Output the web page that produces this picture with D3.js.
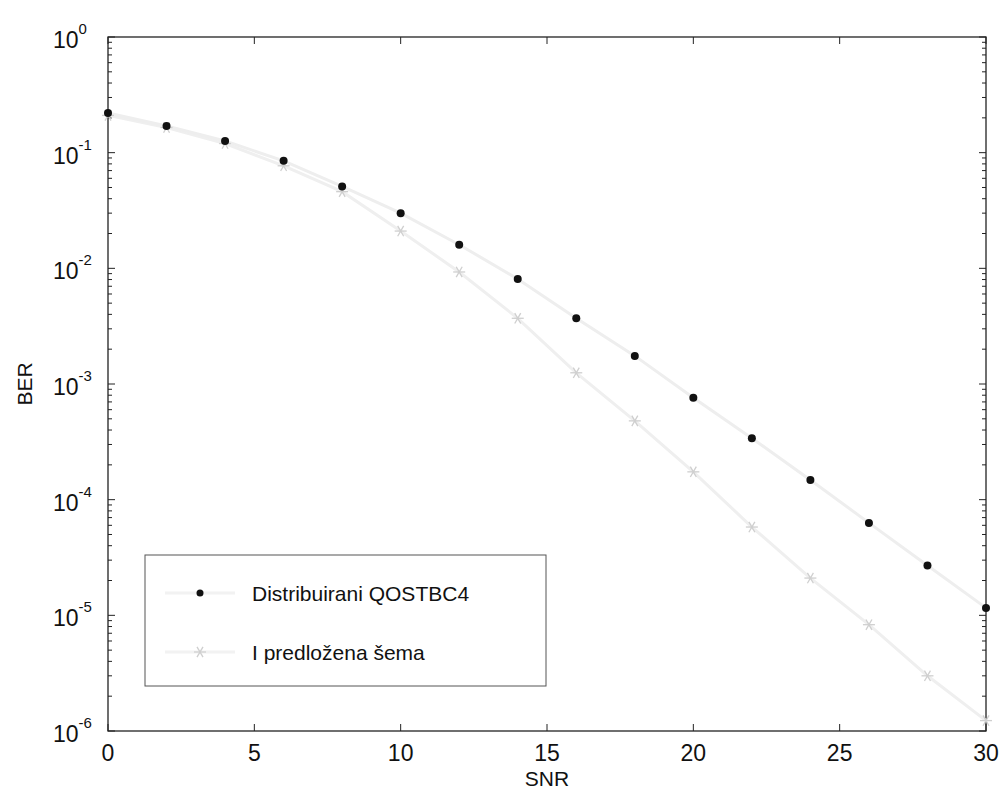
<!DOCTYPE html>
<html>
<head>
<meta charset="utf-8">
<script src="https://cdn.jsdelivr.net/npm/d3@7"></script>
<style>
  body { margin: 0; background: #fff; }
  text { font-family: "Liberation Sans", Arial, sans-serif; }
</style>
</head>
<body>
<div id="chart"></div>
<script>
const snr = [0, 2, 4, 6, 8, 10, 12, 14, 16, 18, 20, 22, 24, 26, 28, 30];
const berQostbc = [0.22, 0.17, 0.126, 0.085, 0.051, 0.030, 0.016, 0.0081, 0.0037, 0.00175, 0.00076, 0.00034, 0.000148, 6.3e-5, 2.7e-5, 1.16e-5];
const berProposed = [0.21, 0.165, 0.12, 0.077, 0.046, 0.021, 0.0093, 0.0037, 0.00125, 0.00048, 0.000174, 5.8e-5, 2.1e-5, 8.3e-6, 3.0e-6, 1.23e-6];
const xTicks = [0, 5, 10, 15, 20, 25, 30];
const yExps = [0, -1, -2, -3, -4, -5, -6];
const legendLabels = ["Distribuirani QOSTBC4", "I predložena šema"];

const width = 1004, height = 798;
const margin = { left: 108, right: 18, top: 37, bottom: 67 };

const svg = d3.select("#chart").append("svg")
  .attr("width", width).attr("height", height);

const x = d3.scaleLinear().domain([0, 30]).range([margin.left, width - margin.right]);
const y = d3.scaleLog().domain([1e-6, 1]).range([height - margin.bottom, margin.top]);

const x0 = x.range()[0], x1 = x.range()[1];
const y0 = y.range()[0], y1 = y.range()[1];

// minor log ticks
const minor = [];
for (let e = -6; e < 0; e++) {
  for (let m = 2; m <= 9; m++) minor.push(m * Math.pow(10, e));
}

const g = svg.append("g").attr("stroke", "#222").attr("stroke-width", 1);
// y ticks, both sides
yExps.forEach(e => {
  const yy = y(Math.pow(10, e));
  g.append("line").attr("x1", x0).attr("x2", x0 + 7).attr("y1", yy).attr("y2", yy);
  g.append("line").attr("x1", x1).attr("x2", x1 - 7).attr("y1", yy).attr("y2", yy);
});
minor.forEach(v => {
  const yy = y(v);
  g.append("line").attr("x1", x0).attr("x2", x0 + 4).attr("y1", yy).attr("y2", yy);
  g.append("line").attr("x1", x1).attr("x2", x1 - 4).attr("y1", yy).attr("y2", yy);
});
// x ticks top and bottom
xTicks.forEach(t => {
  const xx = x(t);
  g.append("line").attr("x1", xx).attr("x2", xx).attr("y1", y0).attr("y2", y0 - 7);
  g.append("line").attr("x1", xx).attr("x2", xx).attr("y1", y1).attr("y2", y1 + 7);
});

// box
svg.append("rect")
  .attr("x", x0).attr("y", y1).attr("width", x1 - x0).attr("height", y0 - y1)
  .attr("fill", "none").attr("stroke", "#222").attr("stroke-width", 1.3);

// tick labels
svg.append("g").selectAll("text").data(xTicks).join("text")
  .attr("x", d => x(d)).attr("y", y0 + 30)
  .attr("text-anchor", "middle").attr("font-size", 23).attr("fill", "#111")
  .text(d => d);

const yl = svg.append("g").selectAll("text").data(yExps).join("text")
  .attr("x", x0 - 55).attr("y", d => y(Math.pow(10, d)) + 11)
  .attr("font-size", 23).attr("fill", "#111");
yl.append("tspan").text("10");
yl.append("tspan").attr("dy", -14).attr("font-size", 15).text(d => d);

// axis labels
svg.append("text").attr("x", (x0 + x1) / 2).attr("y", height - 12)
  .attr("text-anchor", "middle").attr("font-size", 21).attr("fill", "#111").text("SNR");
svg.append("text").attr("transform", `translate(32,${(y0 + y1) / 2}) rotate(-90)`)
  .attr("text-anchor", "middle").attr("font-size", 21).attr("fill", "#111").text("BER");

// lines
const line = d3.line().x(d => x(d[0])).y(d => y(d[1]));
const s1 = snr.map((s, i) => [s, berQostbc[i]]);
const s2 = snr.map((s, i) => [s, berProposed[i]]);

svg.append("path").datum(s2).attr("d", line)
  .attr("fill", "none").attr("stroke", "#efefef").attr("stroke-width", 3);
svg.append("path").datum(s1).attr("d", line)
  .attr("fill", "none").attr("stroke", "#eeeeee").attr("stroke-width", 3);

// asterisk marker
function star(sel, cx, cy) {
  const r = 6;
  [0, 60, 120].forEach(a => {
    const rad = a * Math.PI / 180;
    sel.append("line")
      .attr("x1", cx - r * Math.cos(rad)).attr("y1", cy - r * Math.sin(rad))
      .attr("x2", cx + r * Math.cos(rad)).attr("y2", cy + r * Math.sin(rad))
      .attr("stroke", "#cfcfcf").attr("stroke-width", 1.3);
  });
}

const m2 = svg.append("g");
s2.forEach(d => star(m2, x(d[0]), y(d[1])));

svg.append("g").selectAll("circle").data(s1).join("circle")
  .attr("cx", d => x(d[0])).attr("cy", d => y(d[1])).attr("r", 4)
  .attr("fill", "#111");

// legend
const lg = svg.append("g");
lg.append("rect").attr("x", 145).attr("y", 555).attr("width", 401).attr("height", 131)
  .attr("fill", "#fff").attr("stroke", "#555").attr("stroke-width", 1);
lg.append("line").attr("x1", 165).attr("x2", 235).attr("y1", 593).attr("y2", 593)
  .attr("stroke", "#f2f2f2").attr("stroke-width", 3);
lg.append("circle").attr("cx", 200).attr("cy", 593).attr("r", 3.5).attr("fill", "#111");
lg.append("line").attr("x1", 165).attr("x2", 235).attr("y1", 652).attr("y2", 652)
  .attr("stroke", "#f2f2f2").attr("stroke-width", 3);
star(lg, 200, 652);
lg.selectAll("text").data(legendLabels).join("text")
  .attr("x", 252).attr("y", (d, i) => 601 + i * 59)
  .attr("font-size", 21).attr("fill", "#111").text(d => d);
</script>
</body>
</html>
